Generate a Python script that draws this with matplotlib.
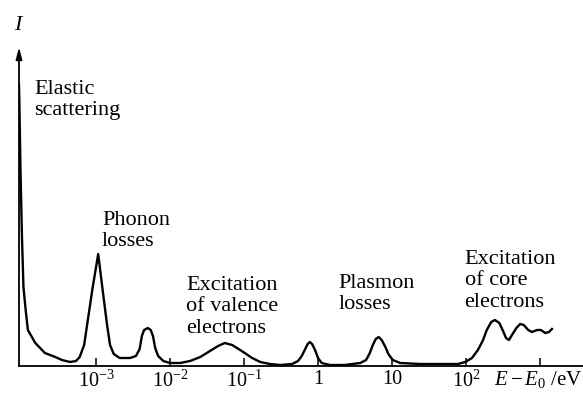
import numpy as np
import matplotlib.pyplot as plt

plt.rcParams['font.family'] = ['Liberation Serif', 'DejaVu Serif']
plt.rcParams['mathtext.fontset'] = 'custom'
plt.rcParams['mathtext.rm'] = 'Liberation Serif'
plt.rcParams['mathtext.it'] = 'Liberation Serif:italic'

# log10(E - E0 / eV) and intensity (arbitrary units)
log_e = [-4.04, -4.035, -4.02, -4.00, -3.98, -3.95, -3.92, -3.82, -3.69, -3.55,
         -3.46, -3.35, -3.27, -3.22, -3.16, -3.12, -3.05, -2.97, -2.91, -2.85,
         -2.81, -2.76, -2.68, -2.54, -2.46, -2.41, -2.38, -2.35, -2.30, -2.26,
         -2.23, -2.20, -2.16, -2.09, -2.00, -1.86, -1.73, -1.59, -1.46, -1.35,
         -1.26, -1.16, -1.01, -0.89, -0.78, -0.65, -0.51, -0.35, -0.27, -0.22,
         -0.18, -0.14, -0.11, -0.08, -0.04, 0.00, 0.05, 0.16, 0.36, 0.57,
         0.65, 0.70, 0.74, 0.78, 0.82, 0.86, 0.91, 0.95, 1.01, 1.11,
         1.38, 1.65, 1.89, 1.99, 2.08, 2.16, 2.23, 2.28, 2.34, 2.39,
         2.45, 2.50, 2.54, 2.58, 2.62, 2.68, 2.73, 2.78, 2.84, 2.89,
         2.96, 3.01, 3.07, 3.12, 3.16]
intensity = [281, 263, 196, 129, 79, 56, 36, 23, 13, 9,
             6, 4, 5, 9, 21, 41, 76, 112, 76, 41,
             21, 12, 8, 8, 10, 17, 30, 36, 38, 36,
             30, 18, 10, 5, 3, 3, 5, 9, 15, 20,
             23, 21, 14, 8, 4, 2, 1, 2, 5, 10,
             16, 22, 24, 22, 16, 8, 3, 1, 1, 3,
             6, 13, 21, 27, 29, 26, 19, 12, 6, 3,
             2, 2, 2, 4, 8, 16, 26, 36, 44, 46,
             43, 35, 28, 26, 31, 38, 42, 41, 36, 34,
             36, 36, 33, 34, 37]

tick_pos = [1e-3, 1e-2, 1e-1, 1, 10, 1e2, 1e3]
tick_labels = ['$10^{-3}$', '$10^{-2}$', '$10^{-1}$', '1', '10', '$10^2$', '']

labels = ['Elastic\nscattering', 'Phonon\nlosses', 'Excitation\nof valence\nelectrons',
          'Plasmon\nlosses', 'Excitation\nof core\nelectrons']
label_x = [-3.83, -2.92, -1.78, 0.28, 1.98]
label_y = [286, 155, 90, 92, 116]

fig = plt.figure(figsize=(5.83, 3.94), dpi=100)
ax = fig.add_axes([19/583, 28/394, 564/583, 319/394])

x = 10 ** np.array(log_e)
ax.plot(x, intensity, color='black', lw=1.7, solid_joinstyle='round')

ax.set_xscale('log')
ax.set_xlim(10 ** -4.04, 10 ** 3.58)
ax.set_ylim(0, 319)

for s in ['top', 'right', 'left']:
    ax.spines[s].set_visible(False)
ax.spines['bottom'].set_linewidth(1.3)

ax.set_xticks(tick_pos)
ax.set_xticklabels(tick_labels, fontsize=14.5)
ax.xaxis.set_minor_locator(plt.NullLocator())
ax.tick_params(axis='x', direction='in', length=6, width=1.1, pad=3)
ax.set_yticks([])

# y axis with arrow
ax.annotate('', xy=(0, 1), xytext=(0, 0), xycoords='axes fraction',
            arrowprops=dict(arrowstyle='-|>,head_length=0.7,head_width=0.18',
                            color='black', lw=1.3, shrinkA=0, shrinkB=0))
fig.text(18/583, 1 - 26/394, 'I', fontsize=16, style='italic', ha='center', va='center')
fig.text(582/583, 1 - 380/394, '$E - E_0$ /eV', fontsize=15, ha='right', va='center')

for t, lx, ly in zip(labels, label_x, label_y):
    ax.text(10 ** lx, ly, t, fontsize=16, ha='left', va='top', linespacing=1.17)

fig.savefig('out.png', dpi=100)
